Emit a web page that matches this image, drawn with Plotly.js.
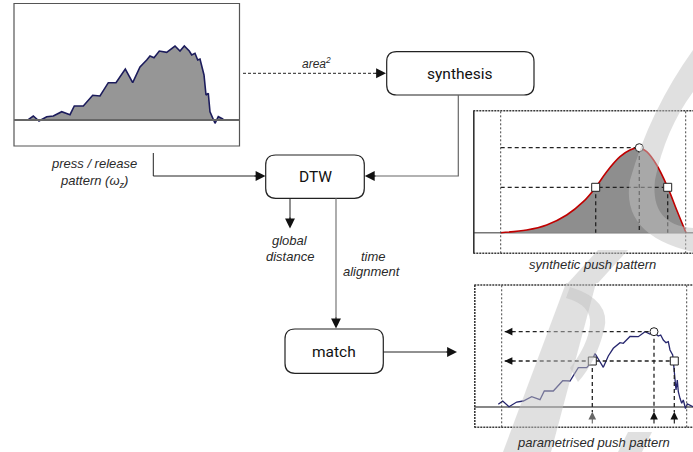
<!DOCTYPE html>
<html><head><meta charset="utf-8">
<script src="https://cdn.plot.ly/plotly-3.0.1.min.js"></script>
<style>body{margin:0;background:#fff}#chart{width:693px;height:452px}</style>
</head><body><div id="chart"></div>
<script>
// ---- press / release pattern (omega_z) ----
const pressT = [14.3,19.3,25,32.7,39.3,47.7,56,60.3,69.3,78.7,86,94.3,102,111.3,118.7,126,132.7,136,140,145.3,152.7,161,166,170.3,175.3,177.7,181,183.7,186,188.7,190,192,194.3,196,197.7,201,204.3,209.3];
const pressA = [0.3,4,-1,3.3,4,8.3,5.3,14,14,24.7,24,37.3,37.3,51,37.3,53,60,64,62.3,69,67.7,74,69,74,69,65,66.7,60,61,51.7,45,25,26.7,8.3,4,-3.3,3.3,0.7];

// ---- synthetic push pattern ----
const synthT = [27.4,53.4,73.4,93.4,110,122.4,133.4,146.7,156.7,166,173.4,183.4,194.4,203.4,212.7];
const synthA = [0,2.7,7.7,17.7,31,45.4,61,76,82.7,85,81,67.7,45.4,22.7,0];
const synthPeak = {t:166, a:85};
const synthHalf = {t1:122.4, t2:194.4, a:45.4};
const synthBounds = [27.4, 212.4];

// ---- parametrised push pattern ----
const paramT = [24,28.4,34.7,42.4,49,57.4,65.7,70,79,88.4,95.7,104,112.4,116.7,120.7,125,129,134,139,145.7,149,155.7,164,170.7,175.7,180,184,186.4,189,191.7,194,195.7,198.4,199.2,200.7,201.7,203,204,205.7,207.4,209,211.2,213,215.7,218.7];
const paramA = [2.7,6,0.3,5,6,10.3,7.3,16,16,26.3,26,39.3,39.3,44.3,53.5,47,39.7,51,58.7,64.3,63.7,70.5,70.3,75.3,73,74.3,71,72,67,64.3,65.3,57,52,44,30.3,17,27,15.3,8.7,3.7,7,-1.5,3,2,0.3];
const paramPeak = {t:179.7, a:75.3};
const paramHalf = {t1:118, t2:200, a:46};
const paramBounds = [27.4, 212.4];

const W = 693, H = 452;
const dom = (a,b,n)=>[a/n,b/n];
const ydom = (top,bot)=>[1-bot/H, 1-top/H];

const hidden = {visible:false, fixedrange:true};
const traces = [];
traces.push({x:[null],y:[null],xaxis:'x',yaxis:'y',hoverinfo:'skip',showlegend:false,mode:'markers'});

// subplot 1
traces.push({x:pressT,y:pressA,xaxis:'x2',yaxis:'y2',mode:'lines',fill:'tozeroy',fillcolor:'#969696',
  line:{color:'#1c1c5c',width:1.6},hoverinfo:'skip',showlegend:false});

// subplot 2
const g2 = {xaxis:'x3',yaxis:'y3',mode:'lines',hoverinfo:'skip',showlegend:false,line:{color:'#222',width:1.3,dash:'4px,3px'}};
traces.push({x:synthT,y:synthA,xaxis:'x3',yaxis:'y3',mode:'lines',fill:'tozeroy',fillcolor:'#8e8e8e',
  line:{color:'#c00000',width:1.6,shape:'spline',smoothing:1},hoverinfo:'skip',showlegend:false});
traces.push(Object.assign({}, g2, {x:[synthBounds[0], synthPeak.t, synthPeak.t], y:[synthPeak.a, synthPeak.a, 0]}));
traces.push(Object.assign({}, g2, {x:[synthBounds[0], synthHalf.t2], y:[synthHalf.a, synthHalf.a]}));
traces.push(Object.assign({}, g2, {x:[synthHalf.t1, synthHalf.t1], y:[synthHalf.a, 0]}));
traces.push(Object.assign({}, g2, {x:[synthHalf.t2, synthHalf.t2], y:[synthHalf.a, 0]}));
traces.push({x:[synthPeak.t],y:[synthPeak.a],xaxis:'x3',yaxis:'y3',mode:'markers',marker:{symbol:'circle',size:8,color:'#fff',line:{color:'#222',width:1}},hoverinfo:'skip',showlegend:false});
traces.push({x:[synthHalf.t1,synthHalf.t2],y:[synthHalf.a,synthHalf.a],xaxis:'x3',yaxis:'y3',mode:'markers',marker:{symbol:'square',size:8,color:'#fff',line:{color:'#222',width:1}},hoverinfo:'skip',showlegend:false});

// subplot 3
const g3 = {xaxis:'x4',yaxis:'y4',mode:'lines',hoverinfo:'skip',showlegend:false,line:{color:'#222',width:1.3,dash:'4px,3px'}};
traces.push({x:paramT,y:paramA,xaxis:'x4',yaxis:'y4',mode:'lines',line:{color:'#26266e',width:1.3},hoverinfo:'skip',showlegend:false});
traces.push(Object.assign({}, g3, {x:[paramBounds[0]+3, paramPeak.t], y:[paramPeak.a, paramPeak.a]}));
traces.push(Object.assign({}, g3, {x:[paramBounds[0]+3, paramHalf.t2], y:[paramHalf.a, paramHalf.a]}));
traces.push(Object.assign({}, g3, {x:[paramHalf.t1, paramHalf.t1], y:[paramHalf.a, -5]}));
traces.push(Object.assign({}, g3, {x:[paramPeak.t, paramPeak.t], y:[paramPeak.a, -5]}));
traces.push(Object.assign({}, g3, {x:[paramHalf.t2, paramHalf.t2], y:[paramHalf.a, -5]}));
traces.push({x:[paramPeak.t],y:[paramPeak.a],xaxis:'x4',yaxis:'y4',mode:'markers',marker:{symbol:'circle',size:8,color:'#fff',line:{color:'#222',width:1}},hoverinfo:'skip',showlegend:false});
traces.push({x:[paramHalf.t1,paramHalf.t2],y:[paramHalf.a,paramHalf.a],xaxis:'x4',yaxis:'y4',mode:'markers',marker:{symbol:'square',size:8,color:'#fff',line:{color:'#222',width:1}},hoverinfo:'skip',showlegend:false});

function rr(x0,y0,x1,y1,r){
  return `M${x0+r},${y0} H${x1-r} Q${x1},${y0} ${x1},${y0+r} V${y1-r} Q${x1},${y1} ${x1-r},${y1} H${x0+r} Q${x0},${y1} ${x0},${y1-r} V${y0+r} Q${x0},${y0} ${x0+r},${y0} Z`;
}
const wm = {type:'path',xref:'x',yref:'y',fillcolor:'#c2c2c2',opacity:0.5,line:{width:0},layer:'above'};

const frameLine = {color:'#3a3a3a',width:1.6,dash:'2px,1px'};
const shapes = [
  {type:'rect',xref:'x',yref:'y',x0:14,x1:239.5,y0:3.5,y1:146,line:{color:'#555',width:1.2},layer:'above'},
  {type:'line',xref:'x2 domain',yref:'y2',x0:0,x1:1,y0:0,y1:0,line:{color:'#666',width:2},layer:'above'},
  {type:'line',xref:'x',yref:'y',x0:473.8,x1:473.8,y0:110.7,y1:253.3,line:{color:'#333',width:1.6},layer:'above'},
  {type:'line',xref:'x',yref:'y',x0:473.3,x1:693,y0:110.7,y1:110.7,line:frameLine,layer:'above'},
  {type:'line',xref:'x',yref:'y',x0:473.3,x1:693,y0:253.3,y1:253.3,line:frameLine,layer:'above'},
  {type:'line',xref:'x3 domain',yref:'y3',x0:0,x1:1,y0:0,y1:0,line:{color:'#777',width:1.5},layer:'below'},
  {type:'line',xref:'x3',yref:'y3 domain',x0:synthBounds[0],x1:synthBounds[0],y0:0,y1:1,line:{color:'#444',width:1,dash:'2px,2px'},layer:'above'},
  {type:'line',xref:'x3',yref:'y3 domain',x0:synthBounds[1],x1:synthBounds[1],y0:0,y1:1,line:{color:'#444',width:1,dash:'2px,2px'},layer:'above'},
  {type:'line',xref:'x',yref:'y',x0:474.8,x1:474.8,y0:285,y1:427.3,line:frameLine,layer:'above'},
  {type:'line',xref:'x',yref:'y',x0:474.3,x1:693,y0:285,y1:285,line:frameLine,layer:'above'},
  {type:'line',xref:'x',yref:'y',x0:474.3,x1:693,y0:427.3,y1:427.3,line:frameLine,layer:'above'},
  {type:'line',xref:'x4 domain',yref:'y4',x0:0,x1:1,y0:0,y1:0,line:{color:'#111',width:1.2},layer:'below'},
  {type:'line',xref:'x4',yref:'y4 domain',x0:paramBounds[0],x1:paramBounds[0],y0:0,y1:1,line:{color:'#444',width:1,dash:'2px,2px'},layer:'above'},
  {type:'line',xref:'x4',yref:'y4 domain',x0:paramBounds[1],x1:paramBounds[1],y0:0,y1:1,line:{color:'#444',width:1,dash:'2px,2px'},layer:'above'},
  {type:'path',xref:'x',yref:'y',path:rr(386.7,51.7,534,95,10),line:{color:'#222',width:1.2},fillcolor:'#fff',layer:'above'},
  {type:'path',xref:'x',yref:'y',path:rr(265.7,155,364.3,198.3,10),line:{color:'#222',width:1.2},fillcolor:'#fff',layer:'above'},
  {type:'path',xref:'x',yref:'y',path:rr(285,329,383.3,373.3,10),line:{color:'#222',width:1.2},fillcolor:'#fff',layer:'above'},
  {type:'line',xref:'x',yref:'y',x0:243,x1:378,y0:73.3,y1:73.3,line:{color:'#222',width:1,dash:'3px,2px'},layer:'above'},
  {type:'path',xref:'x',yref:'y',path:'M458.3,95 V176 H372',line:{color:'#666',width:1.2},layer:'above'},
  {type:'path',xref:'x',yref:'y',path:'M153.3,153 V176 H258',line:{color:'#222',width:1},layer:'above'},
  {type:'line',xref:'x',yref:'y',x0:290,x1:290,y0:198.3,y1:220,line:{color:'#222',width:1},layer:'above'},
  {type:'line',xref:'x',yref:'y',x0:336,x1:336,y0:198.3,y1:318,line:{color:'#777',width:1.2},layer:'above'},
  {type:'line',xref:'x',yref:'y',x0:383.3,x1:448,y0:352,y1:352,line:{color:'#222',width:1},layer:'above'},
  // watermark pieces (decorative)
  Object.assign({}, wm, {path:'M693,50 Q650,110 630,180 Q620,235 693,252 L693,228 Q650,225 655,180 Q665,130 693,92 Z'}),
  Object.assign({}, wm, {path:'M503,452 L551,452 L596,283 L566,283 Z'}),
  Object.assign({}, wm, {path:'M570,287 Q612,300 604,330 Q596,362 578,382 L570,368 Q588,345 590,325 Q592,305 566,298 Z'}),
  Object.assign({}, wm, {path:'M568,283 L598,283 L628,250 L598,250 Z'}),
  Object.assign({}, wm, {path:'M618,452 L642,452 L652,432 L628,432 Z'})
];

function arrowPx(x,y,ax,ay,color){
  return {xref:'x',yref:'y',axref:'x',ayref:'y',x:x,y:y,ax:ax,ay:ay,text:'',showarrow:true,
    arrowhead:2,arrowsize:1.8,arrowwidth:1.1,arrowcolor:color||'#111',standoff:0};
}
function arrowAx(xa,ya,x,y,ax,ay,color,size){
  return {xref:xa,yref:ya,axref:xa,ayref:ya,x:x,y:y,ax:ax,ay:ay,text:'',showarrow:true,
    arrowhead:2,arrowsize:size||1.4,arrowwidth:1.1,arrowcolor:color||'#111',standoff:0};
}
const ital = {family:'Liberation Sans, Arial, sans-serif',size:13,color:'#2a2a2a',style:'italic'};
const boxFont = {family:'Roboto, sans-serif',size:15.5,color:'#111'};
function txt(x,y,t,font){return {xref:'x',yref:'y',x:x,y:y,text:t,showarrow:false,font:font,xanchor:'center',yanchor:'middle'};}

const annotations = [
  arrowPx(386,73.3,374,73.3),
  arrowPx(364.8,176,377,176),
  arrowPx(265.5,176,253,176),
  arrowPx(290,228.5,290,216),
  arrowPx(336,328.5,336,316),
  arrowPx(457,352,445,352),
  arrowAx('x4','y4',paramBounds[0]+3,paramPeak.a,paramBounds[0]+13,paramPeak.a),
  arrowAx('x4','y4',paramBounds[0]+3,paramHalf.a,paramBounds[0]+13,paramHalf.a),
  arrowAx('x4','y4',paramHalf.t1,-4.7,paramHalf.t1,-18,'#666'),
  arrowAx('x4','y4',paramPeak.t,-4.7,paramPeak.t,-18),
  arrowAx('x4','y4',paramHalf.t2,-4.7,paramHalf.t2,-18),
  txt(460.4,73.5,'synthesis',boxFont),
  txt(315,177,'DTW',boxFont),
  txt(334,351.5,'match',boxFont),
  txt(316,62.5,'area<sup>2</sup>',Object.assign({},ital,{size:12})),
  txt(94,163.5,'press / release',ital),
  txt(94,181,'pattern (ω<sub>z</sub>)',ital),
  txt(290,240,'global',ital),
  txt(290,256,'distance',ital),
  txt(373,256,'time',ital),
  txt(372,271.5,'alignment',ital),
  txt(592.5,264.5,'synthetic push pattern',ital),
  txt(593.5,442.5,'parametrised push pattern',ital)
];

const layout = {
  width:W,height:H,margin:{l:0,r:0,t:0,b:0},paper_bgcolor:'#fff',plot_bgcolor:'rgba(0,0,0,0)',
  showlegend:false,
  xaxis:Object.assign({domain:[0,1],range:[0,W]},hidden),
  yaxis:Object.assign({domain:[0,1],range:[H,0]},hidden),
  xaxis2:Object.assign({domain:dom(14,239.5,W),range:[0,225.5],anchor:'y2'},hidden),
  yaxis2:Object.assign({domain:ydom(3.5,146),range:[-26,116.5],anchor:'x2'},hidden),
  xaxis3:Object.assign({domain:dom(473.3,693,W),range:[0,219.7],anchor:'y3'},hidden),
  yaxis3:Object.assign({domain:ydom(110.7,253.3),range:[-20.6,122],anchor:'x3'},hidden),
  xaxis4:Object.assign({domain:dom(474.3,693,W),range:[0,218.7],anchor:'y4'},hidden),
  yaxis4:Object.assign({domain:ydom(285,427.3),range:[-20.3,122],anchor:'x4'},hidden),
  shapes:shapes,
  annotations:annotations
};
Plotly.newPlot('chart',traces,layout,{staticPlot:true,displayModeBar:false});
</script></body></html>
